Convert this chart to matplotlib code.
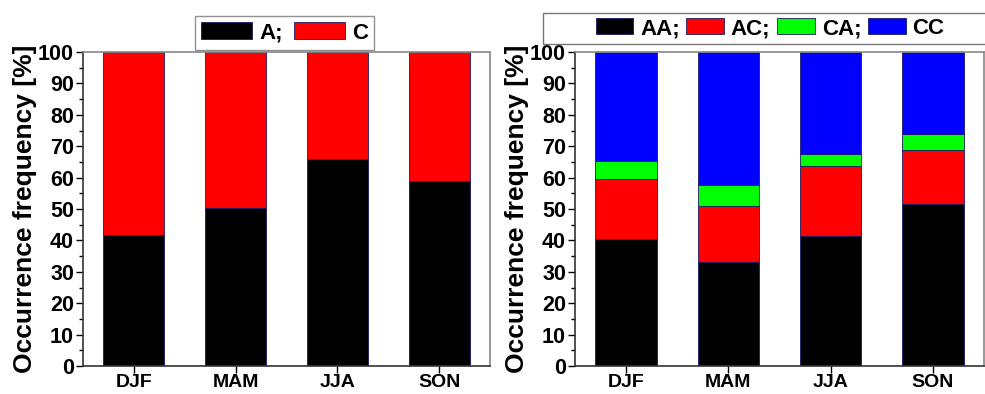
import matplotlib
matplotlib.use("Agg")
import matplotlib.pyplot as plt
from matplotlib.ticker import MultipleLocator
from matplotlib.patches import Rectangle
import numpy as np

plt.rcParams['font.family'] = ['Liberation Sans', 'DejaVu Sans']
plt.rcParams['font.weight'] = 'bold'

seasons = ["DJF", "MAM", "JJA", "SON"]
A = [41.8, 50.4, 65.9, 58.9]
C = [58.2, 49.6, 34.1, 41.1]

AA = [40.4, 33.2, 41.3, 51.5]
AC = [19.2, 17.6, 22.4, 17.4]
CA = [5.6, 7.0, 3.9, 5.1]
CC = [34.8, 42.2, 32.4, 26.0]

fig = plt.figure(figsize=(9.85, 3.94), dpi=100)
W, H = 985, 394
ax1 = fig.add_axes([83 / W, 1 - 366 / H, (490 - 83) / W, (366 - 52) / H])
ax2 = fig.add_axes([575 / W, 1 - 366 / H, (984 - 575) / W, (366 - 52) / H])

x = np.arange(1, 5)
edge = '#1a1a66'
bw = 0.6

def style(ax):
    ax.set_xlim(0.5, 4.5)
    ax.set_ylim(0, 100)
    ax.set_xticks(x)
    ax.set_xticklabels(seasons)
    ax.yaxis.set_major_locator(MultipleLocator(10))
    ax.yaxis.set_minor_locator(MultipleLocator(5))
    ax.tick_params(axis='y', which='major', direction='out', length=5, width=1,
                   labelsize=15.5, pad=1.5)
    ax.tick_params(axis='y', which='minor', direction='out', length=3, width=1)
    ax.tick_params(axis='x', which='major', direction='out', length=5, width=1,
                   labelsize=14, pad=0.5)
    for lab in ax.get_xticklabels() + ax.get_yticklabels():
        lab.set_fontweight('bold')
    for s in ['left', 'bottom']:
        ax.spines[s].set_color('#333333')
        ax.spines[s].set_linewidth(1.2)
    for s in ['top', 'right']:
        ax.spines[s].set_color('#888888')
        ax.spines[s].set_linewidth(1.2)
    ax.set_ylabel("Occurrence frequency [%]", fontsize=19, fontweight='bold', labelpad=1)

b1 = ax1.bar(x, A, width=bw, color='black', edgecolor=edge, linewidth=0.6, label='A;')
b2 = ax1.bar(x, C, width=bw, bottom=A, color='#ff0000', edgecolor=edge, linewidth=0.6, label='C')
style(ax1)

bot = np.zeros(4)
handles = []
for vals, col, lab in [(AA, 'black', 'AA;'), (AC, '#ff0000', 'AC;'), (CA, '#00ff00', 'CA;'), (CC, '#0000ff', 'CC')]:
    h = ax2.bar(x, vals, width=bw, bottom=bot, color=col, edgecolor=edge, linewidth=0.6, label=lab)
    bot = bot + np.array(vals)
    handles.append(h)
style(ax2)

leg1 = fig.legend(handles=[b1, b2], loc='center', bbox_to_anchor=(284.5 / W, 1 - 33 / H),
                  ncol=2, frameon=True, fancybox=False, edgecolor='#777777',
                  prop={'size': 16, 'weight': 'bold'}, handlelength=2.3, handleheight=0.8,
                  handletextpad=0.3, columnspacing=0.5, borderpad=0.3, borderaxespad=0)
leg1.get_frame().set_linewidth(1.0)

leg2 = fig.legend(handles=handles, loc='center', bbox_to_anchor=(770 / W, 1 - 28.5 / H),
                  ncol=4, frameon=False,
                  prop={'size': 16, 'weight': 'bold'}, handlelength=1.7, handleheight=0.7,
                  handletextpad=0.3, columnspacing=0.3, borderpad=0.2, borderaxespad=0)
fig.patches.append(Rectangle((543 / W, 1 - 44 / H), (W - 543) / W + 0.01, 31 / H,
                             transform=fig.transFigure, fill=False, edgecolor='#777777',
                             linewidth=1.0))

fig.savefig("out.png", dpi=100)
